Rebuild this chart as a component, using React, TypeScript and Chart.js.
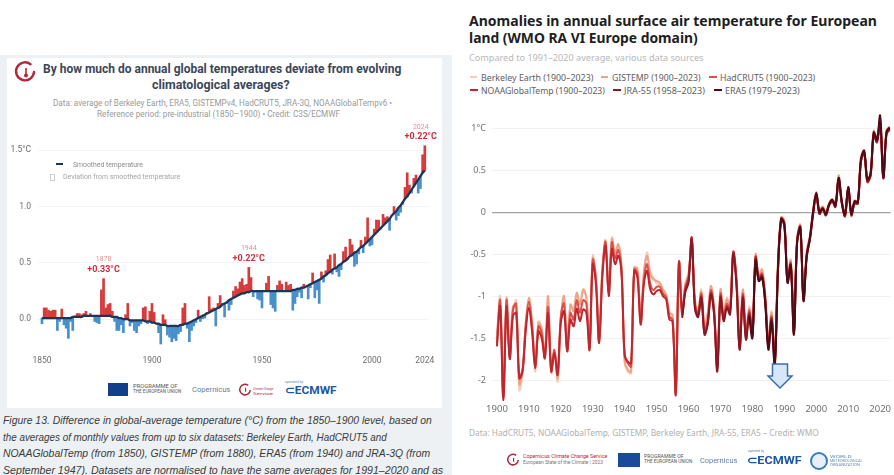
import React, { useEffect, useLayoutEffect, useRef } from "react";
import { Chart, registerables } from "chart.js";

Chart.register(...registerables);

// ---------------- Left chart data (global, vs 1850-1900) ----------------
const GLOBAL_START = 1850;
const GLOBAL_VALUES = [
  -0.04, 0.10, 0.10, 0.08, 0.07, 0.08, 0.08, -0.10, -0.02, 0.09,
  -0.05, -0.08, -0.17, -0.02, -0.10, 0.03, 0.05, 0.05, 0.04, 0.05,
  0.07, 0.03, 0.05, 0.03, -0.02, -0.03, -0.04, 0.26, 0.36, 0.10,
  0.13, 0.14, 0.07, -0.02, -0.10, -0.10, -0.05, -0.12, 0.04, 0.14,
  -0.06, -0.03, -0.10, -0.12, -0.06, -0.04, 0.10, 0.11, -0.04, 0.07,
  0.14, 0.06, -0.04, -0.12, -0.22, 0.04, 0.00, -0.14, -0.16, -0.20,
  -0.17, -0.19, -0.13, -0.11, 0.10, 0.14, -0.08, -0.20, -0.10, -0.06,
  -0.03, 0.08, -0.02, 0.00, 0.01, 0.06, 0.20, 0.09, 0.10, -0.06,
  0.14, 0.21, 0.14, 0.02, 0.14, 0.08, 0.13, 0.25, 0.29, 0.27,
  0.33, 0.36, 0.30, 0.31, 0.46, 0.37, 0.20, 0.24, 0.18, 0.17,
  0.10, 0.25, 0.32, 0.38, 0.13, 0.10, 0.07, 0.30, 0.34, 0.31,
  0.25, 0.33, 0.30, 0.31, 0.08, 0.14, 0.20, 0.24, 0.19, 0.31,
  0.29, 0.18, 0.28, 0.41, 0.19, 0.26, 0.14, 0.42, 0.33, 0.43,
  0.53, 0.57, 0.40, 0.58, 0.42, 0.38, 0.44, 0.60, 0.64, 0.53,
  0.71, 0.66, 0.47, 0.49, 0.58, 0.70, 0.59, 0.73, 0.90, 0.65,
  0.66, 0.80, 0.88, 0.88, 0.80, 0.93, 0.90, 0.91, 0.79, 0.92,
  1.00, 0.88, 0.92, 0.95, 1.02, 1.17, 1.30, 1.19, 1.12, 1.25,
  1.28, 1.12, 1.16, 1.46, 1.54,
];
const GLOBAL_SMOOTH = [
  0.01, 0.01, 0.01, 0.01, 0.01, 0.01, 0.01, 0.01, 0.01, 0.01,
  0.01, 0.01, 0.01, 0.01, 0.02, 0.02, 0.02, 0.02, 0.02, 0.03,
  0.03, 0.03, 0.03, 0.03, 0.03, 0.03, 0.03, 0.03, 0.03, 0.03,
  0.03, 0.03, 0.02, 0.02, 0.02, 0.01, 0.01, 0.00, 0.00, 0.00,
  -0.01, -0.01, -0.01, -0.01, -0.01, -0.01, -0.01, -0.02, -0.02, -0.02,
  -0.03, -0.03, -0.04, -0.04, -0.05, -0.05, -0.05, -0.06, -0.06, -0.06,
  -0.06, -0.06, -0.06, -0.05, -0.05, -0.04, -0.04, -0.03, -0.02, -0.01,
  0.00, 0.01, 0.02, 0.03, 0.04, 0.05, 0.06, 0.07, 0.08, 0.09,
  0.10, 0.11, 0.13, 0.14, 0.15, 0.17, 0.18, 0.19, 0.20, 0.21,
  0.22, 0.23, 0.23, 0.24, 0.24, 0.25, 0.25, 0.25, 0.25, 0.25,
  0.25, 0.25, 0.25, 0.25, 0.25, 0.25, 0.25, 0.25, 0.25, 0.25,
  0.25, 0.25, 0.25, 0.25, 0.26, 0.26, 0.27, 0.27, 0.28, 0.28,
  0.29, 0.30, 0.31, 0.32, 0.33, 0.34, 0.35, 0.36, 0.38, 0.39,
  0.41, 0.42, 0.44, 0.45, 0.46, 0.48, 0.49, 0.51, 0.52, 0.54,
  0.56, 0.57, 0.59, 0.60, 0.62, 0.64, 0.65, 0.67, 0.69, 0.71,
  0.73, 0.75, 0.77, 0.79, 0.81, 0.83, 0.85, 0.87, 0.89, 0.92,
  0.94, 0.96, 0.99, 1.01, 1.04, 1.07, 1.09, 1.12, 1.15, 1.18,
  1.21, 1.24, 1.27, 1.30, 1.32,
];
const GLOBAL_X_TICKS = [1850, 1900, 1950, 2000, 2024];
const GLOBAL_Y_TICKS = [0, 0.5, 1.0, 1.5];
const CALLOUT_YEARS = [1878, 1944, 2024];
const CALLOUT_LABELS = ["+0.33°C", "+0.22°C", "+0.22°C"];

// ---------------- Right chart data (Europe, vs 1991-2020) ----------------
const EU_START = 1900;
const BERKELEY = [
  -1.50, -1.00, -2.15, -1.10, -1.75, -1.20, -1.05, -2.12, -1.95, -1.40,
  -1.05, -1.38, -1.90, -1.30, -1.40, -1.75, -1.05, -1.92, -1.70, -2.02,
  -1.30, -1.02, -1.66, -1.12, -1.15, -0.98, -1.08, -0.95, -1.00, -1.58,
  -0.52, -0.78, -1.50, -0.70, -0.33, -0.90, -0.30, -0.50, -0.40, -0.66,
  -1.80, -1.90, -1.92, -0.70, -0.66, -1.30, -0.75, -0.48, -0.70, -0.78,
  -0.85, -0.86, -0.95, -1.00, -1.18, -1.26, -2.10, -0.62, -1.14, -0.85,
  -0.72, -0.36, -1.04, -1.16, -0.92, -1.32, -1.22, -0.90, -1.10, -1.78,
  -0.94, -1.18, -1.02, -1.10, -0.50, -0.78, -1.55, -0.94, -1.42, -1.12,
  -1.38, -0.55, -0.74, -0.70, -0.96, -1.50, -1.18, -1.70, -0.62, -0.10,
  -0.12, -0.76, -0.56, -1.32, -0.30, -0.18, -1.05, -0.48, -0.32, 0.02,
  0.20, 0.02, 0.04, -0.04, 0.08, 0.12, 0.10, 0.42, 0.14, -0.06,
  0.26, -0.05, 0.10, 0.10, 0.65, 0.70, 0.35, 0.42, 0.96, 0.83,
  1.10, 0.40, 0.97, 0.98,
];
const GISTEMP = [
  -1.45, -1.08, -2.10, -1.02, -1.68, -1.12, -1.12, -2.05, -1.90, -1.32,
  -1.02, -1.30, -1.86, -1.32, -1.38, -1.68, -1.00, -1.85, -1.66, -1.98,
  -1.26, -1.00, -1.60, -1.10, -1.18, -0.96, -1.10, -0.92, -1.02, -1.56,
  -0.55, -0.76, -1.48, -0.68, -0.38, -0.94, -0.32, -0.48, -0.38, -0.64,
  -1.78, -1.88, -1.90, -0.66, -0.68, -1.26, -0.72, -0.52, -0.74, -0.80,
  -0.82, -0.84, -0.92, -0.98, -1.20, -1.22, -2.12, -0.60, -1.16, -0.86,
  -0.74, -0.34, -1.06, -1.18, -0.95, -1.36, -1.20, -0.88, -1.14, -1.80,
  -0.92, -1.20, -1.04, -1.12, -0.48, -0.76, -1.58, -0.92, -1.45, -1.15,
  -1.40, -0.50, -0.76, -0.68, -0.98, -1.52, -1.20, -1.72, -0.60, -0.06,
  -0.10, -0.78, -0.58, -1.36, -0.31, -0.15, -1.02, -0.46, -0.28, 0.03,
  0.24, 0.03, 0.07, 0.00, 0.11, 0.15, 0.11, 0.44, 0.15, -0.01,
  0.28, 0.00, 0.14, 0.13, 0.66, 0.74, 0.40, 0.46, 0.97, 0.88,
  1.12, 0.44, 0.98, 1.02,
];
const HADCRUT5 = [
  -1.56, -1.05, -2.22, -1.05, -1.72, -1.17, -1.09, -1.96, -1.88, -1.36,
  -1.07, -1.36, -1.84, -1.36, -1.44, -1.72, -1.13, -1.88, -1.64, -1.92,
  -1.24, -1.09, -1.64, -1.20, -1.28, -1.05, -1.20, -1.05, -1.09, -1.62,
  -0.57, -0.81, -1.54, -0.73, -0.35, -0.97, -0.36, -0.55, -0.45, -0.69,
  -1.72, -1.80, -1.84, -0.68, -0.73, -1.32, -0.81, -0.62, -0.85, -0.93,
  -0.89, -0.89, -0.97, -1.01, -1.24, -1.28, -2.16, -0.59, -1.20, -0.89,
  -0.77, -0.31, -1.09, -1.20, -0.97, -1.40, -1.28, -0.93, -1.17, -1.84,
  -0.97, -1.24, -1.09, -1.17, -0.47, -0.81, -1.60, -0.97, -1.48, -1.17,
  -1.44, -0.53, -0.77, -0.73, -1.01, -1.56, -1.24, -1.76, -0.65, -0.07,
  -0.13, -0.80, -0.60, -1.40, -0.33, -0.17, -1.00, -0.50, -0.30, 0.00,
  0.22, 0.00, 0.05, -0.02, 0.10, 0.14, 0.08, 0.40, 0.12, -0.03,
  0.30, -0.02, 0.12, 0.12, 0.62, 0.72, 0.38, 0.45, 0.94, 0.85,
  1.06, 0.42, 0.95, 1.00,
];
const NOAA = [
  -1.60, -1.12, -2.25, -1.12, -1.75, -1.24, -1.20, -1.98, -1.90, -1.42,
  -1.14, -1.42, -1.86, -1.42, -1.50, -1.74, -1.20, -1.90, -1.68, -1.94,
  -1.32, -1.18, -1.66, -1.28, -1.36, -1.15, -1.30, -1.16, -1.20, -1.64,
  -0.62, -0.86, -1.56, -0.78, -0.40, -1.00, -0.44, -0.62, -0.52, -0.72,
  -1.70, -1.78, -1.80, -0.70, -0.78, -1.34, -0.86, -0.70, -0.92, -0.98,
  -0.94, -0.93, -1.00, -1.04, -1.28, -1.30, -2.18, -0.60, -1.22, -0.92,
  -0.80, -0.30, -1.12, -1.22, -1.00, -1.44, -1.32, -0.96, -1.20, -1.86,
  -1.00, -1.28, -1.12, -1.20, -0.48, -0.84, -1.62, -1.00, -1.50, -1.20,
  -1.46, -0.54, -0.80, -0.75, -1.04, -1.58, -1.26, -1.78, -0.68, -0.08,
  -0.15, -0.82, -0.62, -1.42, -0.35, -0.19, -1.02, -0.52, -0.32, -0.02,
  0.20, -0.02, 0.03, -0.03, 0.08, 0.12, 0.07, 0.38, 0.10, -0.05,
  0.28, -0.04, 0.10, 0.10, 0.60, 0.70, 0.36, 0.43, 0.92, 0.83,
  1.04, 0.40, 0.93, 0.98,
];
const JRA55_START = 1958;
const JRA55 = [
  -1.26, -0.95,
  -0.84, -0.33, -1.15, -1.25, -1.02, -1.46, -1.34, -0.98, -1.22, -1.90,
  -1.02, -1.30, -1.14, -1.22, -0.50, -0.86, -1.64, -1.02, -1.52, -1.22,
  -1.48, -0.56, -0.82, -0.76, -1.06, -1.60, -1.28, -1.80, -0.70, -0.10,
  -0.16, -0.84, -0.64, -1.44, -0.36, -0.20, -1.04, -0.54, -0.33, -0.03,
  0.21, -0.02, 0.04, -0.04, 0.08, 0.13, 0.06, 0.39, 0.11, -0.04,
  0.29, -0.03, 0.11, 0.11, 0.61, 0.71, 0.37, 0.44, 0.93, 0.84,
  1.08, 0.41, 0.94, 0.99,
];
const ERA5_START = 1979;
const ERA5 = [
  -1.24,
  -1.50, -0.58, -0.82, -0.78, -1.08, -1.64, -1.30, -1.84, -0.70, -0.08,
  -0.14, -0.84, -0.63, -1.46, -0.36, -0.18, -1.06, -0.52, -0.31, 0.00,
  0.23, 0.00, 0.05, -0.02, 0.09, 0.15, 0.08, 0.41, 0.12, -0.03,
  0.30, -0.02, 0.13, 0.12, 0.63, 0.73, 0.39, 0.46, 0.95, 0.86,
  1.15, 0.42, 0.96, 1.01,
];
const EU_X_TICKS = [1900, 1910, 1920, 1930, 1940, 1950, 1960, 1970, 1980, 1990, 2000, 2010, 2020];
const EU_Y_TICKS = [-2, -1.5, -1, -0.5, 0, 0.5, 1];

const EU_SERIES = [
  { label: "Berkeley Earth (1900–2023)", start: EU_START, values: BERKELEY, color: "#f3cdb9" },
  { label: "GISTEMP (1900–2023)", start: EU_START, values: GISTEMP, color: "#eda489" },
  { label: "HadCRUT5 (1900–2023)", start: EU_START, values: HADCRUT5, color: "#de4f4a" },
  { label: "NOAAGlobalTemp (1900–2023)", start: EU_START, values: NOAA, color: "#c0262d" },
  { label: "JRA-55 (1958–2023)", start: JRA55_START, values: JRA55, color: "#8a1822" },
  { label: "ERA5 (1979–2023)", start: ERA5_START, values: ERA5, color: "#4e0b16" },
];

const toXY = (start: number, vals: number[]) => vals.map((v, i) => ({ x: start + i, y: v }));

// ---------------- helpers ----------------
function Fit(props: any) {
  const { x, cy, w, size, color, weight, italic, family, children, align } = props;
  const ref = useRef<HTMLSpanElement>(null);
  const measure = () => {
    const el = ref.current;
    if (!el || !w) return;
    el.style.transform = "none";
    const nat = el.scrollWidth;
    if (nat > 0) el.style.transform = `scaleX(${w / nat})`;
  };
  useLayoutEffect(() => {
    measure();
    if ((document as any).fonts && (document as any).fonts.ready) {
      (document as any).fonts.ready.then(measure);
    }
  });
  const lh = Math.round(size * 1.3);
  return (
    <span
      ref={ref}
      style={{
        position: "absolute",
        left: x,
        top: cy - lh / 2,
        lineHeight: `${lh}px`,
        fontSize: size,
        color: color || "#333",
        fontWeight: weight || 400,
        fontStyle: italic ? "italic" : "normal",
        fontFamily: family || "Roboto",
        whiteSpace: "nowrap",
        display: "inline-block",
        transformOrigin: align === "center" ? "center center" : "left center",
      }}
    >
      {children}
    </span>
  );
}

function Box(props: any) {
  const { x, y, w, h, bg, style } = props;
  return <div style={{ position: "absolute", left: x, top: y, width: w, height: h, background: bg, ...(style || {}) }} />;
}

// ---------------- left chart ----------------
function GlobalChart() {
  const ref = useRef<HTMLCanvasElement>(null);
  useEffect(() => {
    if (!ref.current) return;
    const bars = GLOBAL_VALUES.map((v, i) => ({ x: GLOBAL_START + i, y: [GLOBAL_SMOOTH[i], v] }));
    const colors = GLOBAL_VALUES.map((v, i) => (v >= GLOBAL_SMOOTH[i] ? "#d63b3b" : "#4790cc"));
    const callouts = {
      id: "callouts",
      afterDatasetsDraw(chart: any) {
        const { ctx, scales } = chart;
        CALLOUT_YEARS.forEach((yr, i) => {
          const v = GLOBAL_VALUES[yr - GLOBAL_START];
          let px = scales.x.getPixelForValue(yr);
          const py = scales.y.getPixelForValue(v);
          ctx.save();
          ctx.font = "bold 9px Roboto";
          const half = ctx.measureText(CALLOUT_LABELS[i]).width / 2;
          px = Math.min(px, chart.width - half - 1);
          ctx.textAlign = "center";
          ctx.textBaseline = "middle";
          ctx.fillStyle = "#d12c3a";
          ctx.fillText(CALLOUT_LABELS[i], px, py - 9);
          ctx.font = "7px Roboto";
          ctx.fillStyle = "#e39090";
          ctx.fillText(String(yr), px, py - 19);
          ctx.restore();
        });
      },
    };
    const chart = new Chart(ref.current, {
      type: "bar",
      data: {
        datasets: [
          {
            type: "line",
            data: toXY(GLOBAL_START, GLOBAL_SMOOTH),
            borderColor: "#1f3556",
            borderWidth: 2.3,
            pointRadius: 0,
            tension: 0.4,
            order: 0,
          } as any,
          {
            type: "bar",
            data: bars as any,
            backgroundColor: colors,
            barThickness: 2,
            order: 1,
          },
        ],
      },
      options: {
        responsive: false,
        animation: false,
        layout: { padding: { top: 24, right: 9, left: 0, bottom: 0 } },
        plugins: { legend: { display: false }, tooltip: { enabled: false } },
        scales: {
          x: {
            type: "linear",
            min: 1848.2,
            max: 2025.9,
            offset: false,
            grid: { display: false, offset: false, drawTicks: false },
            border: { display: false },
            afterBuildTicks: (s: any) => {
              s.ticks = GLOBAL_X_TICKS.map((v) => ({ value: v }));
            },
            afterFit: (s: any) => {
              s.height = 20;
            },
            ticks: {
              color: "#6e6e6e",
              font: { family: "Roboto", size: 8.5 },
              padding: 3,
              maxRotation: 0,
              autoSkip: false,
              callback: (v: any) => String(v),
            },
          },
          y: {
            min: -0.3,
            max: 1.6,
            grid: { color: "#f3f3f3", drawTicks: false },
            border: { display: false },
            afterBuildTicks: (s: any) => {
              s.ticks = GLOBAL_Y_TICKS.map((v) => ({ value: v }));
            },
            afterFit: (s: any) => {
              s.width = 30;
            },
            ticks: {
              color: "#6e6e6e",
              font: { family: "Roboto", size: 8.5 },
              padding: 7,
              callback: (v: any) => (v === 1.5 ? "1.5°C" : Number(v).toFixed(1)),
            },
          },
        },
      },
      plugins: [callouts],
    });
    return () => chart.destroy();
  }, []);
  return <canvas ref={ref} width={430} height={258} style={{ position: "absolute", left: 8, top: 115, width: 430, height: 258 }} />;
}

// ---------------- right chart ----------------
function EuropeChart() {
  const ref = useRef<HTMLCanvasElement>(null);
  useEffect(() => {
    if (!ref.current) return;
    const chart = new Chart(ref.current, {
      type: "line",
      data: {
        datasets: EU_SERIES.map((s, i) => ({
          label: s.label,
          data: toXY(s.start, s.values),
          borderColor: s.color,
          borderWidth: 2,
          pointRadius: 0,
          tension: 0.35,
          order: EU_SERIES.length - i,
        })),
      },
      options: {
        responsive: false,
        animation: false,
        layout: { padding: { top: 11, right: 0, left: 0, bottom: 0 } },
        plugins: { legend: { display: false }, tooltip: { enabled: false } },
        scales: {
          x: {
            type: "linear",
            min: 1898.45,
            max: 2023.3,
            grid: { display: false, drawTicks: false },
            border: { display: false },
            afterBuildTicks: (s: any) => {
              s.ticks = EU_X_TICKS.map((v) => ({ value: v }));
            },
            afterFit: (s: any) => {
              s.height = 24;
            },
            ticks: {
              color: "#707070",
              font: { family: "Noto Sans", size: 9.5 },
              padding: 3,
              maxRotation: 0,
              autoSkip: false,
              callback: (v: any) => String(v),
            },
          },
          y: {
            min: -2.25,
            max: 1.2,
            grid: {
              color: (c: any) => (c.tick && c.tick.value === 0 ? "#a3a3a3" : "#f1f1f1"),
              lineWidth: (c: any) => (c.tick && c.tick.value === 0 ? 1.2 : 1),
              drawTicks: false,
            },
            border: { display: false },
            afterBuildTicks: (s: any) => {
              s.ticks = EU_Y_TICKS.map((v) => ({ value: v }));
            },
            afterFit: (s: any) => {
              s.width = 32;
            },
            ticks: {
              color: "#707070",
              font: { family: "Noto Sans", size: 9 },
              padding: 6,
              callback: (v: any) => (v === 1 ? "1°C" : String(v)),
            },
          },
        },
      },
    });
    return () => chart.destroy();
  }, []);
  return <canvas ref={ref} width={434} height={325} style={{ position: "absolute", left: 460, top: 100, width: 434, height: 325 }} />;
}

// ---------------- App ----------------
export default function App() {
  useEffect(() => {
    document.body.style.margin = "0";
    document.body.style.overflow = "hidden";
  }, []);
  const legendRows = [
    [
      { i: 0, lx: 470, lw: 7, tx: 481, tw: 112, cy: 77 },
      { i: 1, lx: 601, lw: 7, tx: 612, tw: 89, cy: 77 },
      { i: 2, lx: 709, lw: 8, tx: 720, tw: 95, cy: 77 },
    ],
    [
      { i: 3, lx: 470, lw: 8, tx: 481, tw: 124, cy: 90 },
      { i: 4, lx: 613, lw: 8, tx: 624, tw: 81, cy: 90 },
      { i: 5, lx: 714, lw: 8, tx: 725, tw: 75, cy: 90 },
    ],
  ];
  return (
    <div style={{ position: "relative", width: 894, height: 475, overflow: "hidden", background: "#fff", fontFamily: "Roboto" }}>
      {/* left panel */}
      <Box x={0} y={55} w={452} h={420} bg="#edf1f4" />
      <Box x={7} y={58} w={435} h={350} bg="#ffffff" />
      <svg style={{ position: "absolute", left: 13, top: 60 }} width={24} height={24} viewBox="0 0 24 24">
        <path d="M17.5 4.2 A9 9 0 1 0 21 12" fill="none" stroke="#b3283d" strokeWidth={2.4} strokeLinecap="round" />
        <line x1={13} y1={8} x2={13} y2={14} stroke="#b3283d" strokeWidth={1.6} />
        <circle cx={13} cy={15.5} r={2} fill="#b3283d" />
      </svg>
      <Fit x={43} cy={68} w={358} size={13.5} weight={700} color="#3b4658">
        By how much do annual global temperatures deviate from evolving
      </Fit>
      <Fit x={152} cy={83.5} w={138} size={13.5} weight={700} color="#3b4658">
        climatological averages?
      </Fit>
      <Fit x={53} cy={103} w={339} size={8.5} color="#9a9a9a">
        Data: average of Berkeley Earth, ERA5, GISTEMPv4, HadCRUT5, JRA-3Q, NOAAGlobalTempv6 •
      </Fit>
      <Fit x={97} cy={114} w={243} size={8.5} color="#9a9a9a">
        Reference period: pre-industrial (1850–1900) • Credit: C3S/ECMWF
      </Fit>

      <GlobalChart />

      {/* left legend */}
      <Box x={56} y={163} w={7} h={2} bg="#1f3556" />
      <Fit x={72.5} cy={164.5} w={70} size={7.5} color="#8c8c8c">
        Smoothed temperature
      </Fit>
      <div style={{ position: "absolute", left: 50, top: 174, width: 3, height: 5, border: "1px solid #cfcfcf" }} />
      <Fit x={62.5} cy={177} w={117} size={7.5} color="#a5a5a5">
        Deviation from smoothed temperature
      </Fit>

      {/* left logos */}
      <Box x={108} y={383} w={20} h={13} bg="#123f8c" />
      <Fit x={133} cy={387} w={45} size={4.5} color="#555">PROGRAMME OF</Fit>
      <Fit x={133} cy={392} w={48} size={4.5} color="#555">THE EUROPEAN UNION</Fit>
      <Fit x={192} cy={390} w={38} size={8} color="#5e7da5">Copernicus</Fit>
      <svg style={{ position: "absolute", left: 238, top: 383 }} width={14} height={14} viewBox="0 0 24 24">
        <path d="M17.5 4.2 A9 9 0 1 0 21 12" fill="none" stroke="#b3283d" strokeWidth={2.6} />
        <line x1={13} y1={8} x2={13} y2={15} stroke="#b3283d" strokeWidth={2} />
      </svg>
      <Fit x={253} cy={388} w={20} size={4} color="#b3283d">Climate Change</Fit>
      <Fit x={253} cy={393} w={20} size={4} color="#b3283d">Service</Fit>
      <Fit x={285} cy={382} w={18} size={3.5} color="#6a8ab0">operated by</Fit>
      <Fit x={285} cy={391} w={52} size={11} weight={700} color="#1b58a5">⊂ECMWF</Fit>

      {/* caption */}
      <Fit x={3} cy={420} w={429} size={11} italic family="Liberation Sans" color="#3a3a3a">
        Figure 13. Difference in global-average temperature (°C) from the 1850–1900 level, based on
      </Fit>
      <Fit x={3} cy={436.5} w={384} size={11} italic family="Liberation Sans" color="#3a3a3a">
        the averages of monthly values from up to six datasets: Berkeley Earth, HadCRUT5 and
      </Fit>
      <Fit x={3} cy={453} w={427} size={11} italic family="Liberation Sans" color="#3a3a3a">
        NOAAGlobalTemp (from 1850), GISTEMP (from 1880), ERA5 (from 1940) and JRA-3Q (from
      </Fit>
      <Fit x={3} cy={470} w={440} size={11} italic family="Liberation Sans" color="#3a3a3a">
        September 1947). Datasets are normalised to have the same averages for 1991–2020 and as
      </Fit>

      {/* right panel */}
      <Fit x={469} cy={20} w={408} size={15} weight={700} family="Noto Sans" color="#1e1e1e">
        Anomalies in annual surface air temperature for European
      </Fit>
      <Fit x={469} cy={37} w={229} size={15} weight={700} family="Noto Sans" color="#1e1e1e">
        land (WMO RA VI Europe domain)
      </Fit>
      <Fit x={469} cy={58} w={234} size={9} family="Noto Sans" color="#b8b8b8">
        Compared to 1991–2020 average, various data sources
      </Fit>
      {legendRows.flat().map((it) => (
        <React.Fragment key={it.i}>
          <Box x={it.lx} y={it.cy - 1} w={it.lw} h={2} bg={EU_SERIES[it.i].color} />
          <Fit x={it.tx} cy={it.cy} w={it.tw} size={8.5} family="Noto Sans" color="#5e5e5e">
            {EU_SERIES[it.i].label}
          </Fit>
        </React.Fragment>
      ))}

      <EuropeChart />

      <svg style={{ position: "absolute", left: 765, top: 362 }} width={30} height={28} viewBox="0 0 30 28">
        <path d="M7.5 2 H22.5 V14 H27 L15 26 L3 14 H7.5 Z" fill="#d5e7f8" stroke="#3c6db2" strokeWidth={1.5} strokeLinejoin="miter" />
      </svg>

      <Fit x={469} cy={433} w={350} size={8} family="Noto Sans" color="#b0b0b0">
        Data: HadCRUT5, NOAAGlobalTemp, GISTEMP, Berkeley Earth, JRA-55, ERA5 – Credit: WMO
      </Fit>

      {/* right logos */}
      <svg style={{ position: "absolute", left: 506, top: 453 }} width={14} height={14} viewBox="0 0 24 24">
        <path d="M17.5 4.2 A9 9 0 1 0 21 12" fill="none" stroke="#b3283d" strokeWidth={2.6} />
        <line x1={13} y1={8} x2={13} y2={15} stroke="#b3283d" strokeWidth={2} />
      </svg>
      <Fit x={523} cy={457} w={84} size={4.5} color="#b3283d">Copernicus Climate Change Service</Fit>
      <Fit x={523} cy={463} w={80} size={4.5} color="#777">European State of the Climate | 2023</Fit>
      <Box x={618} y={453} w={22} h={14} bg="#1a4a9c" />
      <Fit x={644} cy={457} w={40} size={4.5} color="#555">PROGRAMME OF</Fit>
      <Fit x={644} cy={462} w={48} size={4.5} color="#555">THE EUROPEAN UNION</Fit>
      <Fit x={700} cy={461} w={37} size={8} color="#5e7da5">Copernicus</Fit>
      <Fit x={748} cy={451} w={16} size={3.5} color="#6a8ab0">operated by</Fit>
      <Fit x={747} cy={461} w={55} size={11} weight={700} color="#1b58a5">⊂ECMWF</Fit>
      <div style={{ position: "absolute", left: 810, top: 452, width: 14, height: 14, borderRadius: "50%", border: "2px solid #3a7cc0", background: "#e7f0fa" }} />
      <Fit x={830} cy={456} w={22} size={3.8} color="#6a8ab0">WORLD</Fit>
      <Fit x={830} cy={460} w={33} size={3.8} color="#6a8ab0">METEOROLOGICAL</Fit>
      <Fit x={830} cy={464} w={30} size={3.8} color="#6a8ab0">ORGANIZATION</Fit>
    </div>
  );
}
